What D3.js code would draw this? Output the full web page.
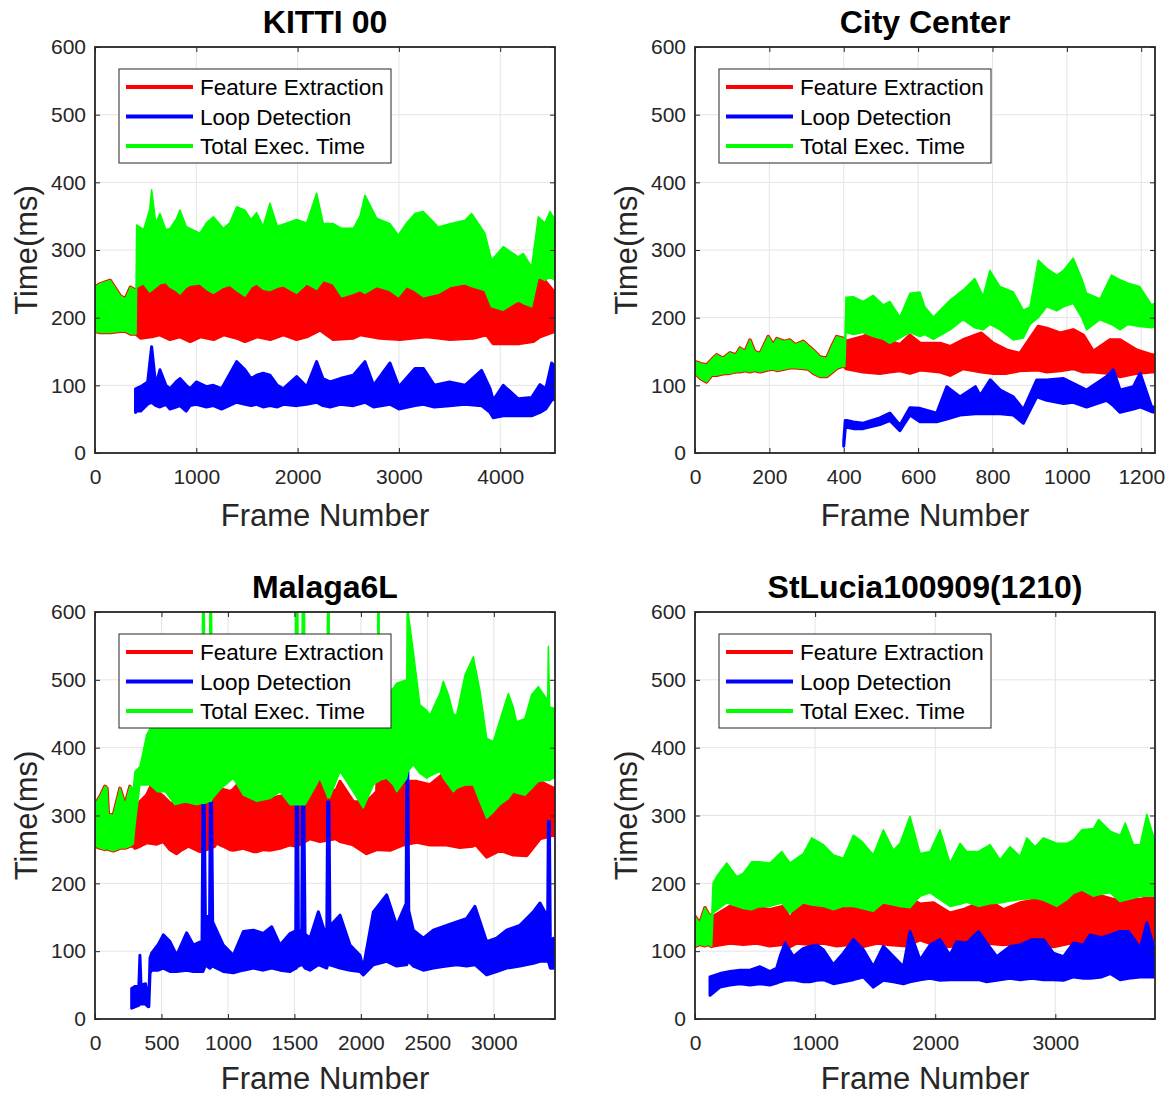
<!DOCTYPE html>
<html>
<head>
<meta charset="utf-8">
<script src="https://cdn.jsdelivr.net/npm/d3@7"></script>
<style>
  body { margin: 0; background: #fff; }
  text { font-family: "Liberation Sans", Arial, Helvetica, sans-serif; }
</style>
</head>
<body>
<svg id="chart" width="1170" height="1096"></svg>
<script>
// *** Data (in ms; hi/lo = upper/lower edge of each noisy trace) ***

var timeTicks = [0, 100, 200, 300, 400, 500, 600];
var seriesNames = ["Feature Extraction", "Loop Detection", "Total Exec. Time"];
var seriesColors = ["#ff0000", "#0000ff", "#00ff00"];

// KITTI 00
var kittiTicks = [0, 1000, 2000, 3000, 4000];
var kittiFeatFrames = [0,50,150,250,300,350,405,450,560,640,740,840,940,1040,1170,1270,1400,1480,1600,1730,1860,1990,2090,2221,2352,2550,2616,2813,3011,3274,3505,3734,3866,3931,4195,4327,4393,4541];
var kittiFeatHi = [245,250,255,232,228,245,240,248,250,258,247,262,250,252,258,250,255,248,260,252,255,250,262,260,250,236,266,250,245,258,250,250,236,221,221,221,263,236];
var kittiFeatLo = [180,178,178,180,180,176,176,170,172,175,168,172,165,172,168,175,170,165,172,168,175,168,172,182,168,170,175,170,168,172,168,170,175,162,162,165,172,180];
var kittiLoopFrames = [400,405,450,520,559,600,641,700,740,800,839,900,938,1000,1100,1168,1250,1398,1481,1540,1596,1660,1727,1800,1860,1991,2090,2188,2250,2320,2420,2550,2665,2750,2912,3000,3159,3241,3350,3500,3652,3816,3900,3931,4030,4178,4310,4393,4450,4508,4541];
var kittiLoopHi = [95,95,98,105,157,100,123,100,95,105,110,100,95,105,98,100,95,135,123,110,115,118,115,100,95,113,98,135,110,105,110,115,135,100,133,98,125,125,100,105,100,122,95,78,100,80,82,101,95,133,128];
var kittiLoopLo = [60,62,62,72,75,70,68,72,65,68,70,62,70,72,68,70,65,75,72,70,72,68,70,68,72,70,72,75,70,68,72,70,75,68,72,65,70,72,68,70,72,70,60,52,55,55,55,60,65,78,80];
var kittiTotalFrames = [0,50,150,250,300,350,405,411,480,540,559,600,641,700,740,800,839,900,938,1036,1100,1168,1267,1330,1398,1481,1540,1596,1660,1727,1800,1859,1991,2090,2188,2254,2352,2435,2550,2616,2665,2780,2912,2994,3076,3159,3241,3390,3505,3652,3718,3849,3915,4030,4178,4228,4310,4376,4442,4491,4541];
var kittiTotalHi = [245,250,255,232,228,245,240,337,330,360,389,340,354,330,332,345,359,335,332,325,340,349,332,340,364,359,345,355,335,369,335,338,345,340,384,339,339,332,332,350,381,347,339,322,340,354,357,334,339,344,354,325,285,305,290,295,275,349,340,357,345];
var kittiTotalLo = [180,178,178,180,180,176,176,245,250,238,240,245,250,252,245,240,235,245,248,250,242,236,245,248,240,232,245,250,242,240,245,247,236,250,242,255,250,231,236,240,236,246,240,231,246,240,231,236,246,250,246,240,216,211,225,221,216,260,255,260,255];

// City Center
var cityTicks = [0, 200, 400, 600, 800, 1000, 1200];
var cityFeatFrames = [0,15,31,45,58,75,94,110,121,135,148,160,175,197,210,220,240,255,270,291,305,318,336,354,370,381,395,403,406,452,497,524,551,578,605,659,686,721,770,802,838,874,923,946,982,1017,1044,1071,1116,1143,1188,1228,1237];
var cityFeatHi = [135,132,130,138,145,140,148,145,155,150,167,150,147,172,160,169,165,167,160,165,158,152,142,140,160,172,170,168,165,172,182,165,160,174,162,162,157,167,177,162,152,147,187,184,177,182,174,150,167,167,152,145,145];
var cityFeatLo = [118,110,105,115,115,117,118,120,120,122,120,122,120,123,124,122,124,126,126,125,124,118,113,113,120,125,128,128,125,120,118,120,122,118,123,120,115,125,120,118,118,122,123,120,122,125,120,120,118,113,118,120,120];
var cityLoopFrames = [400,404,408,426,452,497,524,551,578,605,650,677,713,754,767,794,821,856,883,919,946,991,1017,1053,1107,1125,1143,1179,1197,1228,1237];
var cityLoopHi = [18,48,48,46,44,52,59,41,67,66,59,98,83,98,85,108,93,83,64,108,108,110,103,93,113,123,93,98,118,68,68];
var cityLoopLo = [10,36,38,36,36,42,48,33,56,46,46,50,56,58,58,58,58,56,44,83,78,73,75,68,78,70,60,65,68,61,60];
var cityTotalFrames = [0,15,31,45,58,75,94,110,121,135,148,160,175,197,210,220,240,255,270,291,305,318,336,354,370,381,395,403,406,426,452,479,506,524,551,578,605,618,641,686,721,752,775,793,820,856,883,901,923,946,973,991,1017,1040,1053,1089,1120,1143,1165,1196,1228,1237];
var cityTotalHi = [135,132,130,138,145,140,148,145,155,150,167,150,147,172,160,169,165,167,160,165,158,152,142,140,160,172,170,168,230,231,224,233,219,224,201,236,238,216,201,226,241,258,232,270,246,238,211,216,285,273,263,270,288,258,236,228,263,256,251,246,219,222];
var cityTotalLo = [118,110,105,115,115,117,118,120,120,122,120,122,120,123,124,122,124,126,126,125,124,118,113,113,120,125,128,128,178,175,178,172,168,162,170,178,172,175,168,182,197,185,182,190,182,167,170,190,200,216,210,216,221,200,182,197,190,182,190,187,185,187];

// Malaga6L
var malagaTicks = [0, 500, 1000, 1500, 2000, 2500, 3000];
var malagaFeatFrames = [0,38,75,90,100,138,188,226,263,288,301,338,389,426,464,514,564,614,639,702,790,840,900,915,930,965,1016,1040,1116,1191,1216,1266,1316,1392,1467,1517,1617,1692,1810,1843,1943,2043,2120,2131,2142,2219,2319,2419,2520,2645,2745,2840,2858,2876,2946,3046,3146,3247,3347,3447,3460];
var malagaFeatHi = [316,328,343,340,302,300,340,316,343,300,286,320,330,345,335,328,318,316,325,340,335,345,340,375,340,338,335,338,355,340,335,345,325,328,330,345,335,350,335,350,320,320,335,419,345,380,350,350,345,365,340,345,380,345,306,335,338,335,350,340,340];
var malagaFeatLo = [255,252,250,252,250,248,252,252,255,255,252,255,260,259,258,262,250,244,248,255,247,250,255,261,258,255,250,249,252,247,247,250,249,252,257,255,266,262,266,262,257,244,250,250,250,249,257,261,257,257,253,255,257,255,239,249,242,241,266,271,270];
var malagaLoopFrames = [276,300,330,338,346,380,400,405,414,426,476,514,564,614,689,740,805,812,822,830,862,867,877,885,965,1040,1116,1191,1266,1329,1392,1467,1510,1514,1524,1530,1555,1560,1570,1580,1617,1680,1743,1750,1760,1767,1843,1918,1993,2018,2094,2194,2269,2340,2345,2353,2360,2394,2470,2545,2645,2720,2795,2858,2946,3021,3096,3196,3297,3347,3405,3410,3418,3425,3447,3460];
var malagaLoopHi = [45,48,50,94,50,52,30,30,90,97,110,124,114,94,127,109,115,320,320,153,150,320,320,143,109,94,129,131,126,136,109,126,130,335,335,130,130,335,335,125,119,158,119,320,320,137,153,109,94,75,158,183,138,170,365,365,160,131,119,131,138,143,148,166,114,119,131,138,158,171,150,291,291,110,119,115];
var malagaLoopLo = [16,18,20,40,22,22,18,18,68,72,72,75,70,70,72,70,70,70,75,80,75,75,78,78,70,68,72,75,72,75,72,70,75,75,80,78,80,80,78,75,72,80,75,80,80,80,75,72,70,65,80,85,78,80,80,85,85,78,72,75,78,80,78,80,65,70,75,78,82,85,85,85,80,75,75,78];
var malagaTotalFrames = [0,38,75,90,100,138,188,226,263,288,301,338,389,414,470,530,600,680,760,805,810,820,828,860,865,875,883,950,1040,1116,1216,1316,1392,1467,1505,1510,1525,1530,1555,1560,1575,1580,1650,1692,1745,1750,1760,1765,1843,1943,2018,2094,2125,2128,2136,2140,2194,2244,2269,2345,2349,2355,2394,2444,2495,2520,2595,2620,2658,2695,2720,2783,2846,2896,2946,2996,3046,3109,3146,3171,3234,3284,3334,3405,3410,3420,3447,3460];
var malagaTotalHi = [316,328,343,340,302,300,340,316,343,340,365,372,419,428,445,460,440,465,450,470,640,640,480,470,640,640,470,455,440,470,450,460,445,445,470,640,640,470,470,640,640,470,455,460,470,640,640,470,450,465,445,460,470,640,640,470,480,488,495,500,640,600,542,463,455,448,480,498,478,450,448,507,534,483,414,409,441,480,460,438,443,478,490,470,549,460,458,460];
var malagaTotalLo = [255,252,250,252,250,248,252,252,255,258,286,345,345,345,335,335,316,320,316,318,318,318,318,321,321,321,325,340,355,330,321,325,335,316,316,316,316,316,316,316,316,316,340,355,330,326,326,326,365,335,311,345,350,350,350,352,355,345,335,355,360,365,375,362,355,358,365,355,345,335,340,345,345,320,296,305,316,325,335,333,330,340,350,352,352,352,355,355];

// StLucia100909(1210)
var stluciaTicks = [0, 1000, 2000, 3000];
var stluciaFeatFrames = [0,40,83,110,139,153,291,402,513,624,736,791,846,958,1069,1180,1291,1402,1513,1624,1763,1873,1985,2123,2234,2429,2568,2707,2846,2984,3123,3207,3346,3485,3596,3707,3818,3830];
var stluciaFeatHi = [151,141,164,155,151,151,166,161,164,161,166,147,166,176,171,161,166,161,171,171,181,169,171,156,161,176,161,171,176,171,186,188,183,176,176,176,181,180];
var stluciaFeatLo = [107,110,108,110,107,108,112,110,112,108,110,107,112,110,112,108,110,107,112,110,108,117,110,107,112,112,110,112,110,107,112,110,112,108,110,112,117,115];
var stluciaLoopFrames = [125,208,291,375,458,541,624,680,708,750,819,902,958,1013,1069,1152,1235,1319,1402,1485,1568,1652,1735,1790,1874,1957,2040,2123,2179,2262,2360,2429,2512,2623,2707,2804,2901,2984,3068,3151,3235,3290,3387,3457,3540,3610,3707,3762,3818,3830];
var stluciaLoopHi = [62,67,70,72,72,77,70,75,92,112,92,104,107,109,102,80,97,117,102,77,107,92,77,129,87,109,117,94,114,112,129,112,92,107,109,117,117,97,92,112,109,124,120,124,129,129,104,142,107,105];
var stluciaLoopLo = [35,47,50,52,50,52,50,53,55,57,58,55,55,57,58,52,55,58,62,47,57,55,52,55,58,60,57,58,58,58,58,55,57,60,58,60,58,58,57,62,60,60,62,67,58,60,62,62,62,62];
var stluciaTotalFrames = [0,40,83,110,139,150,180,264,347,402,472,527,624,722,791,902,972,1069,1152,1235,1319,1388,1485,1568,1652,1707,1790,1874,1957,2040,2123,2207,2262,2360,2457,2540,2623,2707,2762,2832,2901,3012,3096,3151,3221,3318,3360,3457,3540,3582,3651,3707,3762,3818,3830];
var stluciaTotalHi = [151,141,164,155,151,200,210,230,210,215,232,232,230,247,230,244,267,257,242,237,271,262,242,279,249,259,299,244,247,279,230,259,247,247,257,235,254,240,267,254,267,259,259,264,279,281,294,277,271,289,257,257,302,269,265];
var stluciaTotalLo = [107,110,108,110,107,156,160,171,166,163,161,165,166,171,156,171,168,166,161,166,166,163,159,171,168,166,164,181,186,176,166,169,172,166,170,171,174,176,177,178,175,166,176,185,190,181,183,186,173,175,178,181,181,181,181];

// *** Panel layout ***

var panels = [
  {id: "kitti", title: "KITTI 00", left: 95, top: 47, height: 406, xMax: 4541, xTicks: kittiTicks,
   series: [[kittiFeatFrames, kittiFeatHi, kittiFeatLo], [kittiLoopFrames, kittiLoopHi, kittiLoopLo], [kittiTotalFrames, kittiTotalHi, kittiTotalLo]]},
  {id: "city", title: "City Center", left: 695, top: 47, height: 406, xMax: 1237, xTicks: cityTicks,
   series: [[cityFeatFrames, cityFeatHi, cityFeatLo], [cityLoopFrames, cityLoopHi, cityLoopLo], [cityTotalFrames, cityTotalHi, cityTotalLo]]},
  {id: "malaga", title: "Malaga6L", left: 95, top: 612, height: 407, xMax: 3460, xTicks: malagaTicks,
   series: [[malagaFeatFrames, malagaFeatHi, malagaFeatLo], [malagaLoopFrames, malagaLoopHi, malagaLoopLo], [malagaTotalFrames, malagaTotalHi, malagaTotalLo]]},
  {id: "stlucia", title: "StLucia100909(1210)", left: 695, top: 612, height: 407, xMax: 3830, xTicks: stluciaTicks,
   series: [[stluciaFeatFrames, stluciaFeatHi, stluciaFeatLo], [stluciaLoopFrames, stluciaLoopHi, stluciaLoopLo], [stluciaTotalFrames, stluciaTotalHi, stluciaTotalLo]]}
];

var svgHeight = 1096;
var panelWidth = 460;
var axisColor = "#262626";
// stroke widths: red is wider so it shows as an outline where green sits exactly on it
var bandStroke = [3.5, 3, 1.5];

var svg = d3.select("#chart");

function to_rows(frames, hi, lo) {
  return frames.map((f, i) => ({frame: f, hi: hi[i], lo: lo[i]}));
}

function style_axis(axisG, fontSize) {
  axisG.select(".domain").remove();
  axisG.selectAll(".tick line").attr("stroke", axisColor).attr("stroke-width", 1);
  axisG.selectAll(".tick text")
    .attr("fill", axisColor)
    .style("font-size", fontSize + "px")
    .style("font-family", "'Liberation Sans', Arial, sans-serif");
}

function draw_panel(p) {
  var height = p.height;
  var x = d3.scaleLinear().domain([0, p.xMax]).range([0, panelWidth]);
  var y = d3.scaleLinear().domain([0, 600]).range([height, 0]);

  var g = svg.append("g").attr("transform", "translate(" + p.left + "," + p.top + ")");

  svg.append("defs").append("clipPath").attr("id", "clip-" + p.id)
    .append("rect").attr("width", panelWidth).attr("height", height);

  // grid
  var grid = g.append("g").attr("stroke", "#e4e4e4").attr("stroke-width", 1);
  grid.selectAll(".vgrid").data(p.xTicks.filter(t => t > 0)).enter().append("line")
    .attr("x1", d => x(d)).attr("x2", d => x(d)).attr("y1", 0).attr("y2", height);
  grid.selectAll(".hgrid").data(timeTicks.filter(t => t > 0 && t < 600)).enter().append("line")
    .attr("x1", 0).attr("x2", panelWidth).attr("y1", d => y(d)).attr("y2", d => y(d));

  // traces: feature, loop, total (drawn in that order, green on top)
  var plot = g.append("g").attr("clip-path", "url(#clip-" + p.id + ")");
  var area = d3.area()
    .x(d => x(d.frame))
    .y0(d => y(d.lo))
    .y1(d => y(d.hi));
  p.series.forEach(function (s, i) {
    plot.append("path")
      .datum(to_rows(s[0], s[1], s[2]))
      .attr("d", area)
      .attr("fill", seriesColors[i])
      .attr("stroke", seriesColors[i])
      .attr("stroke-width", bandStroke[i])
      .attr("stroke-linejoin", "round");
  });

  // axes (ticks point inward on all four sides)
  var yAxisG = g.append("g")
    .call(d3.axisLeft(y).tickValues(timeTicks).tickSizeInner(-5).tickSizeOuter(0).tickPadding(9));
  style_axis(yAxisG, 21);
  var yRightG = g.append("g").attr("transform", "translate(" + panelWidth + ",0)")
    .call(d3.axisRight(y).tickValues(timeTicks).tickSizeInner(-5).tickSizeOuter(0).tickFormat(""));
  style_axis(yRightG, 21);
  var xAxisG = g.append("g").attr("transform", "translate(0," + height + ")")
    .call(d3.axisBottom(x).tickValues(p.xTicks).tickSizeInner(-5).tickSizeOuter(0).tickPadding(16).tickFormat(d3.format("d")));
  style_axis(xAxisG, 21);
  var xTopG = g.append("g")
    .call(d3.axisTop(x).tickValues(p.xTicks).tickSizeInner(-5).tickSizeOuter(0).tickFormat(""));
  style_axis(xTopG, 21);

  g.append("rect")
    .attr("width", panelWidth).attr("height", height)
    .attr("fill", "none").attr("stroke", axisColor).attr("stroke-width", 1.8);

  // labels
  g.append("text")
    .attr("x", panelWidth / 2).attr("y", -14)
    .attr("text-anchor", "middle")
    .style("font-size", "32px").style("font-weight", "bold")
    .attr("fill", "#000")
    .text(p.title);
  // keep the bottom row's label inside the picture
  var xLabelY = Math.min(height + 73, svgHeight - 7 - p.top);
  g.append("text")
    .attr("x", panelWidth / 2).attr("y", xLabelY)
    .attr("text-anchor", "middle")
    .style("font-size", "31px")
    .attr("fill", axisColor)
    .text("Frame Number");
  g.append("text")
    .attr("transform", "translate(-58," + (height / 2) + ") rotate(-90)")
    .attr("text-anchor", "middle")
    .style("font-size", "31px")
    .attr("fill", axisColor)
    .text("Time(ms)");

  // legend
  var legend = g.append("g").attr("transform", "translate(24,22)");
  legend.append("rect")
    .attr("width", 272).attr("height", 94)
    .attr("fill", "#fff").attr("stroke", axisColor).attr("stroke-width", 1);
  seriesNames.forEach(function (name, i) {
    var rowY = 18 + i * 29.5;
    legend.append("line")
      .attr("x1", 7).attr("x2", 74).attr("y1", rowY).attr("y2", rowY)
      .attr("stroke", seriesColors[i]).attr("stroke-width", 4);
    legend.append("text")
      .attr("x", 81).attr("y", rowY + 8)
      .style("font-size", "22.5px")
      .attr("fill", "#000")
      .text(name);
  });
}

panels.forEach(draw_panel);
</script>
</body>
</html>
